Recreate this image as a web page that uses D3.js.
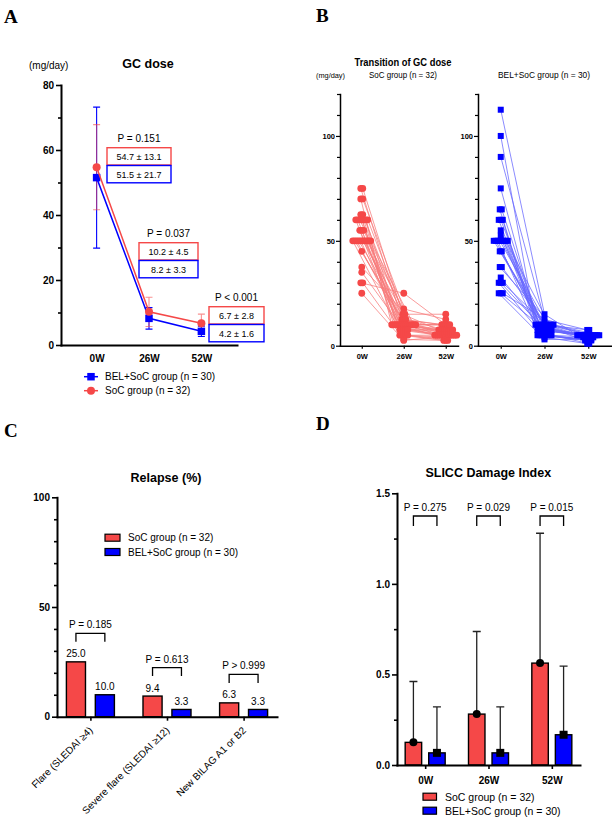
<!DOCTYPE html>
<html><head><meta charset="utf-8">
<script src="https://cdn.jsdelivr.net/npm/d3@7"></script>
<style>body{margin:0;background:#fff}svg{display:block}</style>
</head><body><svg width="612" height="823"></svg>
<script>
// ---------------- DATA ----------------
const weeks = ["0W", "26W", "52W"];
// Panel A: GC dose mean ± SD
const gcBelMean = [51.5, 8.2, 4.2], gcBelSD = [21.7, 3.3, 1.6];
const gcSocMean = [54.7, 10.2, 6.7], gcSocSD = [13.1, 4.5, 2.8];
const gcPvals = ["P = 0.151", "P = 0.037", "P < 0.001"];
const gcMajorTicks = [0, 20, 40, 60, 80];
const gcMinorTicks = [10, 30, 50, 70];
// Panel B: individual patients
const socW0  = [75,75,70,70,62.5,62.5,60,60,60,60,60,60,60,55,55,55,50,50,50,50,50,50,50,50,50,50,45,37.5,35,30,30,25];
const socW26 = [12.5,15,10,17.5,10,12.5,10,7.5,15,10,5,10,12.5,10,7.5,10,5,10,7.5,10,5,10,7.5,10,5,10,7.5,10,5,25,3,2.5];
const socW52 = [10,7.5,5,12.5,7.5,10,5,5,15,7.5,5,10,7.5,5,7.5,5,2.5,7.5,5,10,4,5,7.5,5,2.5,10,5,5,3,7.5,2.5,5];
const belW0  = [112.5,100,90,75,65,65,60,60,60,55,52.5,50,50,50,50,50,50,50,50,45,45,37.5,37.5,32.5,30,30,30,25,25,25];
const belW26 = [15,10,12.5,10,7.5,10,7.5,10,5,7.5,10,10,7.5,5,10,7.5,5,10,5,7.5,5,10,7.5,5,4,5,7.5,3,5,10];
const belW52 = [5,5,7.5,4,5,2.5,5,4,3,5,7.5,4,5,2.5,5,4,3,5,2.5,4,3,5,5,2.5,1,4,5,3,1,5];
const bMajorTicks = [0, 50, 100];
const bMinorTicks = [10,20,30,40,60,70,80,90,110,120];
// Panel C: relapse %
const relapseCats = ["Flare (SLEDAI \u22654)", "Severe flare (SLEDAI \u226512)", "New BILAG A1 or B2"];
const relapseSoc = [25.0, 9.4, 6.3];
const relapseBel = [10.0, 3.3, 3.3];
const relapseP = ["P = 0.185", "P = 0.613", "P > 0.999"];
const cMajorTicks = [0, 50, 100];
const cMinorTicks = [10,20,30,40,60,70,80,90];
// Panel D: SLICC damage index mean + SD
const sdiSocMean = [0.125, 0.281, 0.5625], sdiSocSD = [0.336, 0.456, 0.717];
const sdiBelMean = [0.067, 0.067, 0.167], sdiBelSD = [0.254, 0.254, 0.379];
const sdiP = ["P = 0.275", "P = 0.029", "P = 0.015"];
const dMajorTicks = [0, 0.5, 1.0, 1.5];
const dMinorTicks = [0.25, 0.75, 1.25];
const socLabel = "SoC group (n = 32)", belLabel = "BEL+SoC group (n = 30)";

// ---------------- HELPERS ----------------
const RED = "#f54848", BLUE = "#0000ff";
const FONT = '"Liberation Sans", Arial, sans-serif';
const svg = d3.select("svg");
function T(x, y, s, o = {}) {
  const t = svg.append("text").attr("x", x).attr("y", y).text(s)
    .attr("font-family", o.family || FONT).attr("font-size", o.size || 10)
    .attr("font-weight", o.weight || "normal").attr("text-anchor", o.anchor || "start")
    .attr("fill", o.fill || "#000");
  if (o.len) t.attr("textLength", o.len).attr("lengthAdjust", "spacingAndGlyphs");
  return t;
}
function yAxis(x, y, major, minor, fmt, o = {}) {
  const lw = o.lw || 2, size = o.size || 10;
  const g = svg.append("g").attr("transform", `translate(${x},0)`);
  g.append("g").call(d3.axisLeft(y).tickValues(minor).tickSize(o.minorLen || 3).tickSizeOuter(0).tickFormat(""))
    .call(a => a.select(".domain").remove());
  g.append("g").call(d3.axisLeft(y).tickValues(major).tickSize(o.majorLen || 5).tickSizeOuter(0).tickFormat(fmt).tickPadding(o.pad || 2));
  g.selectAll("line").attr("stroke", "#000").attr("stroke-width", lw * 0.8);
  g.selectAll(".domain").attr("stroke", "#000").attr("stroke-width", lw).attr("stroke-linecap", "square");
  g.selectAll("text").attr("font-family", FONT).attr("font-size", size).attr("font-weight", "bold").attr("fill", "#000");
  return g;
}
function xAxis(y, x, o = {}) {
  const lw = o.lw || 2;
  const g = svg.append("g").attr("transform", `translate(0,${y})`)
    .call(d3.axisBottom(x).tickSize(o.tickLen || 0).tickSizeOuter(0).tickPadding(o.pad || 3).tickFormat(o.fmt === undefined ? null : o.fmt));
  g.selectAll("line").attr("stroke", "#000").attr("stroke-width", lw * 0.8);
  g.selectAll(".domain").attr("stroke", "#000").attr("stroke-width", lw).attr("stroke-linecap", "square");
  g.selectAll("text").attr("font-family", FONT).attr("font-size", o.size || 10).attr("font-weight", "bold").attr("fill", "#000");
  if (o.len) g.selectAll("text").attr("textLength", d => o.len * String(d).length / 3).attr("lengthAdjust", "spacingAndGlyphs");
  return g;
}
const sq = (g, x, y, s, fill) => g.append("rect").attr("x", x - s / 2).attr("y", y - s / 2).attr("width", s).attr("height", s).attr("fill", fill);

// Panel letters
const serif = '"Liberation Serif", "Times New Roman", serif';
T(4, 22.5, "A", {size: 19, weight: "bold", family: serif});
T(316, 22, "B", {size: 19, weight: "bold", family: serif});
T(4, 437, "C", {size: 19, weight: "bold", family: serif});
T(316, 430, "D", {size: 19, weight: "bold", family: serif});

// ---------------- PANEL A ----------------
{
  const x = d3.scalePoint().domain(weeks).range([61, 237]).padding(0.68);
  const y = d3.scaleLinear().domain([0, 80]).range([345, 85]);
  T(148, 68.3, "GC dose", {size: 12.5, weight: "bold", anchor: "middle"});
  T(29, 68.5, "(mg/day)", {size: 10});
  yAxis(61, y, gcMajorTicks, gcMinorTicks, d3.format("d"));
  xAxis(345, x, {pad: 10});
  const g = svg.append("g");
  const errs = (mean, sd, col, op) => weeks.forEach((w, i) => {
    const cx = x(w), lo = y(mean[i] - sd[i]), hi = y(mean[i] + sd[i]);
    g.append("path").attr("d", `M${cx},${lo}V${hi}M${cx - 3.5},${lo}H${cx + 3.5}M${cx - 3.5},${hi}H${cx + 3.5}`)
      .attr("stroke", col).attr("stroke-width", 1.1).attr("fill", "none").attr("opacity", op);
  });
  errs(gcBelMean, gcBelSD, BLUE, 1);
  errs(gcSocMean, gcSocSD, RED, 0.6);
  const line = d3.line().x((d, i) => x(weeks[i])).y(d => y(d));
  g.append("path").attr("d", line(gcBelMean)).attr("stroke", BLUE).attr("stroke-width", 1.5).attr("fill", "none");
  gcBelMean.forEach((m, i) => sq(g, x(weeks[i]), y(m), 7.5, BLUE));
  g.append("path").attr("d", line(gcSocMean)).attr("stroke", RED).attr("stroke-width", 1.5).attr("fill", "none");
  gcSocMean.forEach((m, i) => g.append("circle").attr("cx", x(weeks[i])).attr("cy", y(m)).attr("r", 4).attr("fill", RED));
  // annotation boxes (layout)
  const notes = [{cx: 139, pY: 142, bY: 147.7, w: 64}, {cx: 168.5, pY: 236.5, bY: 242.7, w: 59}, {cx: 236.5, pY: 300.5, bY: 306.7, w: 55}];
  notes.forEach((n, i) => {
    T(n.cx, n.pY, gcPvals[i], {size: 10, anchor: "middle"});
    [[gcSocMean, gcSocSD, RED], [gcBelMean, gcBelSD, BLUE]].forEach(([m, s, col], k) => {
      const by = n.bY + k * 17.8;
      g.append("rect").attr("x", n.cx - n.w / 2).attr("y", by).attr("width", n.w).attr("height", 17.3)
        .attr("fill", "#fff").attr("stroke", col).attr("stroke-width", 1.4);
      T(n.cx, by + 12, `${m[i].toFixed(1)} \u00b1 ${s[i].toFixed(1)}`, {size: 9, anchor: "middle"});
    });
  });
  // legend
  g.append("line").attr("x1", 84).attr("x2", 98).attr("y1", 376.7).attr("y2", 376.7).attr("stroke", BLUE).attr("stroke-width", 1.5);
  sq(g, 91, 376.7, 7.5, BLUE);
  T(105, 380.3, belLabel, {size: 10});
  g.append("line").attr("x1", 84).attr("x2", 98).attr("y1", 390.7).attr("y2", 390.7).attr("stroke", RED).attr("stroke-width", 1.5);
  g.append("circle").attr("cx", 91).attr("cy", 390.7).attr("r", 4).attr("fill", RED);
  T(105, 394.3, socLabel, {size: 10});
}

// ---------------- PANEL B ----------------
{
  const y = d3.scaleLinear().domain([0, 120]).range([345.7, 94]);
  T(403, 65.5, "Transition of GC dose", {size: 11, weight: "bold", anchor: "middle", len: 97});
  T(403, 77.5, socLabel, {size: 9, anchor: "middle", len: 68});
  T(544, 77.5, belLabel, {size: 9, anchor: "middle", len: 92});
  T(316, 78, "(mg/day)", {size: 7.5, len: 29});
  const STEP = 2;
  const jitter = vals => {
    const cnt = d3.rollup(vals, v => v.length, d => d), idx = new Map();
    return vals.map(v => { const i = idx.has(v) ? idx.get(v) + 1 : 0; idx.set(v, i); return (i - (cnt.get(v) - 1) / 2) * STEP; });
  };
  const panels = [
    {x: d3.scalePoint().domain(weeks).range([340, 458]).padding(0.405).align(0.64), ax: 340, cols: [socW0, socW26, socW52], col: RED, line: "#f77c7c", shape: "circle"},
    {x: d3.scalePoint().domain(weeks).range([478, 611]).padding(0.52).align(0.5), ax: 478, cols: [belW0, belW26, belW52], col: BLUE, line: "#6666ff", shape: "square"}
  ];
  panels.forEach(p => {
    yAxis(p.ax, y, bMajorTicks, bMinorTicks, d3.format("d"), {lw: 1.5, size: 7.5, majorLen: 4, minorLen: 3, pad: 1});
    xAxis(345.7, p.x, {lw: 1.5, size: 7.5, tickLen: 3, pad: 5});
    const jit = p.cols.map(jitter);
    const g = svg.append("g");
    p.cols[0].forEach((_, k) => {
      const pts = p.cols.map((c, i) => [p.x(weeks[i]) + jit[i][k], y(c[k])]);
      g.append("path").attr("d", d3.line()(pts)).attr("stroke", p.line).attr("stroke-width", 0.9).attr("fill", "none").attr("opacity", 0.85);
    });
    p.cols.forEach((c, i) => c.forEach((v, k) => {
      const cx = p.x(weeks[i]) + jit[i][k], cy = y(v);
      if (p.shape === "circle") g.append("circle").attr("cx", cx).attr("cy", cy).attr("r", 3.4).attr("fill", p.col);
      else sq(g, cx, cy, 6, p.col);
    }));
  });
}

// ---------------- PANEL C ----------------
{
  const x = d3.scalePoint().domain(relapseCats).range([57, 277]).padding(0.436);
  const inner = d3.scaleBand().domain(["soc", "bel"]).range([-24, 24]).paddingInner(0.34);
  const y = d3.scaleLinear().domain([0, 100]).range([716.7, 497.3]);
  T(166, 481.5, "Relapse (%)", {size: 12.5, weight: "bold", anchor: "middle"});
  const g = svg.append("g");
  relapseCats.forEach((c, i) => {
    [["soc", relapseSoc[i], RED], ["bel", relapseBel[i], BLUE]].forEach(([k, v, col]) => {
      const bx = x(c) + inner(k);
      g.append("rect").attr("x", bx).attr("y", y(v)).attr("width", inner.bandwidth()).attr("height", y(0) - y(v))
        .attr("fill", col).attr("stroke", "#000").attr("stroke-width", 1.4);
      T(bx + inner.bandwidth() / 2, y(v) - 4.5, v.toFixed(1), {size: 10, anchor: "middle"});
    });
    const top = y(Math.max(relapseSoc[i], relapseBel[i])) - 28.5;
    const x1 = x(c) + inner("soc") + inner.bandwidth() / 2, x2 = x(c) + inner("bel") + inner.bandwidth() / 2;
    g.append("path").attr("d", `M${x1},${top + 8.5}V${top}H${x2}V${top + 8.5}`).attr("stroke", "#000").attr("stroke-width", 1.3).attr("fill", "none");
    T((x1 + x2) / 2, top - 5, relapseP[i], {size: 10, anchor: "middle"});
    T(x(c) + 3, 731, c, {size: 10, anchor: "end"}).attr("transform", `rotate(-45,${x(c) + 3},731)`);
  });
  yAxis(57, y, cMajorTicks, cMinorTicks, d3.format("d"));
  xAxis(716.7, x, {tickLen: 4, fmt: ""});
  // legend
  [[RED, socLabel, 537.7], [BLUE, belLabel, 552]].forEach(([col, lab, ly]) => {
    g.append("rect").attr("x", 105).attr("y", ly - 3.5).attr("width", 15).attr("height", 7).attr("fill", col).attr("stroke", "#000").attr("stroke-width", 1.2);
    T(128, ly + 3.5, lab, {size: 10});
  });
}

// ---------------- PANEL D ----------------
{
  const x = d3.scalePoint().domain(weeks).range([397, 580]).padding(0.445);
  const inner = d3.scaleBand().domain(["soc", "bel"]).range([-20, 20]).paddingInner(0.3);
  const y = d3.scaleLinear().domain([0, 1.5]).range([765, 493.3]);
  T(488.3, 476.5, "SLICC Damage Index", {size: 12.5, weight: "bold", anchor: "middle"});
  const g = svg.append("g");
  weeks.forEach((w, i) => {
    [["soc", sdiSocMean[i], sdiSocSD[i], RED], ["bel", sdiBelMean[i], sdiBelSD[i], BLUE]].forEach(([k, m, s, col]) => {
      const bx = x(w) + inner(k), cx = bx + inner.bandwidth() / 2;
      g.append("rect").attr("x", bx).attr("y", y(m)).attr("width", inner.bandwidth()).attr("height", y(0) - y(m))
        .attr("fill", col).attr("stroke", "#000").attr("stroke-width", 1.4);
      g.append("path").attr("d", `M${cx},${y(m)}V${y(m + s)}M${cx - 4},${y(m + s)}H${cx + 4}`).attr("stroke", "#222").attr("stroke-width", 1.3).attr("fill", "none");
      if (k === "soc") g.append("circle").attr("cx", cx).attr("cy", y(m)).attr("r", 4).attr("fill", "#000");
      else sq(g, cx, y(m), 8, "#000");
    });
    const x1 = x(w) + inner("soc") + inner.bandwidth() / 2, x2 = x(w) + inner("bel") + inner.bandwidth() / 2;
    g.append("path").attr("d", `M${x1},526V516H${x2}V526`).attr("stroke", "#000").attr("stroke-width", 1.3).attr("fill", "none");
    T((x1 + x2) / 2, 510.5, sdiP[i], {size: 10, anchor: "middle"});
  });
  yAxis(397, y, dMajorTicks, dMinorTicks, d3.format(".1f"));
  xAxis(765, x, {tickLen: 4, pad: 8});
  [[RED, socLabel, 796.7], [BLUE, belLabel, 810.7]].forEach(([col, lab, ly]) => {
    g.append("rect").attr("x", 423).attr("y", ly - 3.5).attr("width", 13.5).attr("height", 7).attr("fill", col).attr("stroke", "#000").attr("stroke-width", 1.2);
    T(445, ly + 3.8, lab, {size: 10.5});
  });
}
</script></body></html>
